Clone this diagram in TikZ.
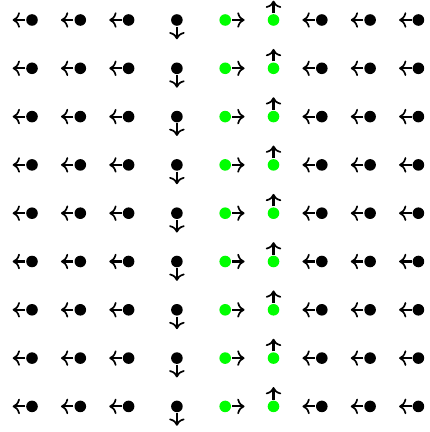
\documentclass[tikz,border=0pt]{standalone}
\usetikzlibrary{arrows.meta}
\begin{document}
\begin{tikzpicture}[>={To[length=1.5mm,width=3.2mm,line width=1pt]}, line width=1.2pt,
    cell/.style={circle, fill=black, inner sep=0pt, minimum size=2.4mm},
    goal/.style={cell, fill=green}]

    \useasboundingbox (-0.6625,0.414) rectangle (8.24,-8.53);

    % 9x9 grid of states, each with its action arrow
    \foreach \i/\dx/\dy/\sty in {0/-1/0/cell, 1/-1/0/cell, 2/-1/0/cell,
                                 3/0/-1/cell, 4/1/0/goal, 5/0/1/goal,
                                 6/-1/0/cell, 7/-1/0/cell, 8/-1/0/cell}
      \foreach \j in {0,...,8} {
        \node[\sty] (s\i\j) at (\i,-\j) {};
        \coordinate (a\i\j) at (\i+0.4*\dx, -\j+0.4*\dy);
        \draw[->] (s\i\j) -- (a\i\j);
      }

\end{tikzpicture}
\end{document}
